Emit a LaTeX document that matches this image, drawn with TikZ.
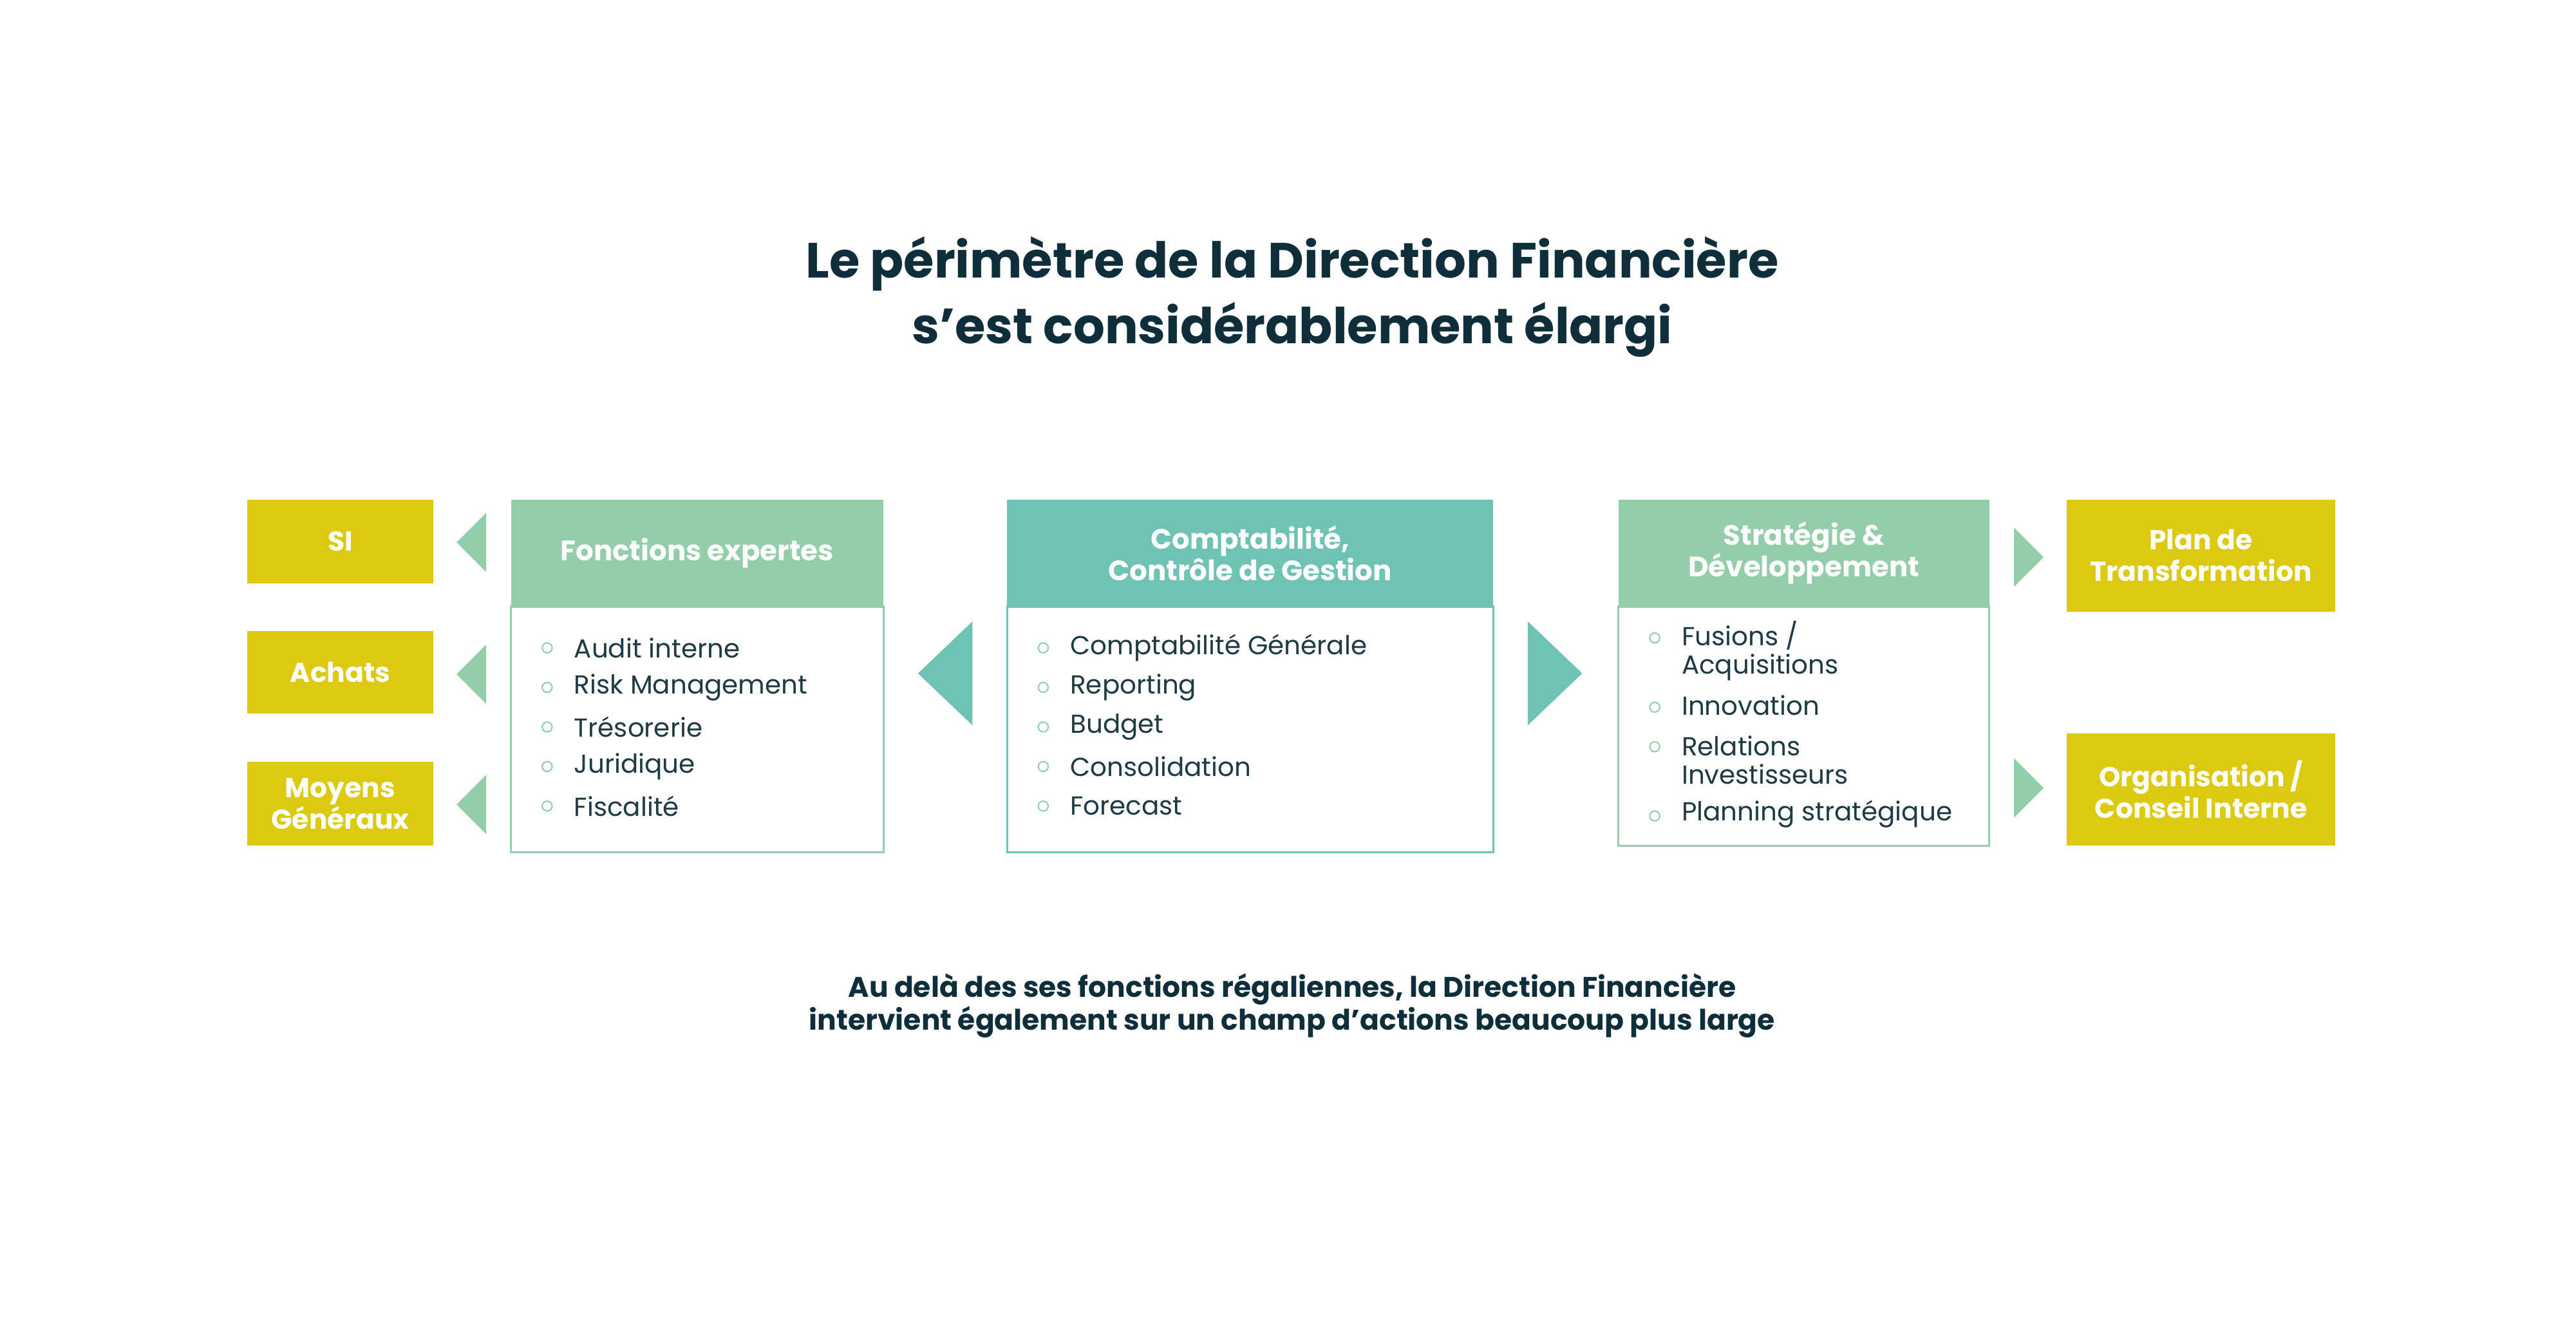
\documentclass[tikz,border=0pt]{standalone}
\usepackage{fontspec}
\setmainfont{Poppins}
\definecolor{navy}{HTML}{0E2E3B}
\definecolor{lgreen}{HTML}{93CDAA}
\definecolor{teal}{HTML}{6EC3B5}
\definecolor{yel}{HTML}{DDC90F}
\definecolor{bodytxt}{HTML}{1E3A44}
\begin{document}
\begin{tikzpicture}[x=0.5pt,y=-0.5pt,
  ybox/.style={fill=yel,text=white,font=\bfseries\fontsize{8.3}{9.6}\selectfont,align=center,inner sep=0},
  hdr/.style={text=white,font=\bfseries\fontsize{8.5}{9.6}\selectfont,align=center},
  item/.style={anchor=west,text=bodytxt,font=\fontsize{7.9}{8.6}\selectfont,inner sep=0,align=left},
  bul/.style={draw=lgreen,line width=0.4pt}]
\useasboundingbox (0,0) rectangle (1563,814);
\fill[white] (0,0) rectangle (1563,814);
\node[text=navy,font=\bfseries\fontsize{15}{20}\selectfont,align=center] (title) at (784,180) {Le périmètre de la Direction Financière\\s’est considérablement élargi};
% yellow boxes
\fill[yel] (150,303) rectangle (263,354); \node[ybox] (si) at (206.5,328.5) {SI};
\fill[yel] (150,383) rectangle (263,433); \node[ybox] (ach) at (206.5,408) {Achats};
\fill[yel] (150,462) rectangle (263,513); \node[ybox] (mg) at (206.5,487.5) {Moyens\\Généraux};
\fill[yel] (1254,303) rectangle (1417,371); \node[ybox] (plan) at (1335.5,337) {Plan de\\Transformation};
\fill[yel] (1254,445) rectangle (1417,513); \node[ybox] (org) at (1335.5,479) {Organisation /\\Conseil Interne};
% small triangles
\foreach \y in {329,409,488} \fill[lgreen] (277,\y) -- (295,\y-18) -- (295,\y+18) -- cycle;
\foreach \y in {338,478} \fill[lgreen] (1240,\y) -- (1222,\y-18) -- (1222,\y+18) -- cycle;
% big triangles
\fill[teal] (557,408.5) -- (590,377) -- (590,440) -- cycle;
\fill[teal] (960,408.5) -- (927,377) -- (927,440) -- cycle;
% boxes
\fill[lgreen] (310,303) rectangle (536,368);
\draw[lgreen,line width=0.6pt] (310,368) rectangle (536,517);
\node[hdr] (fe) at (423,335.5) {Fonctions expertes};
\fill[teal] (611,303) rectangle (906,368);
\draw[teal,line width=0.6pt] (611,368) rectangle (906,517);
\node[hdr] (cc) at (758.5,335.5) {Comptabilité,\\Contrôle de Gestion};
\fill[lgreen] (982,303) rectangle (1207,368);
\draw[lgreen,line width=0.6pt] (982,368) rectangle (1207,513);
\node[hdr] (sd) at (1094.5,335.5) {Stratégie \&\\Développement};
% items
\foreach \t [count=\i] in {Audit interne,Risk Management,Trésorerie,Juridique,Fiscalité}{
  \draw[bul] (332,369+24*\i) circle (3);
  \node[item] at (348,369+24*\i) {\t};}
\foreach \t [count=\i] in {Comptabilité Générale,Reporting,Budget,Consolidation,Forecast}{
  \draw[bul] (633,369+24*\i) circle (3);
  \node[item] at (649,369+24*\i) {\t};}
\foreach \y in {387,429,453,495} \draw[bul] (1004,\y) circle (3);
\node[item] at (1020,395) {Fusions /\\Acquisitions};
\node[item] at (1020,428) {Innovation};
\node[item] at (1020,461) {Relations\\Investisseurs};
\node[item] at (1020,494) {Planning stratégique};
\node[text=navy,font=\bfseries\fontsize{8.6}{10}\selectfont,align=center] (foot) at (784,610) {Au delà des ses fonctions régaliennes, la Direction Financière\\intervient également sur un champ d’actions beaucoup plus large};
\end{tikzpicture}
\end{document}
